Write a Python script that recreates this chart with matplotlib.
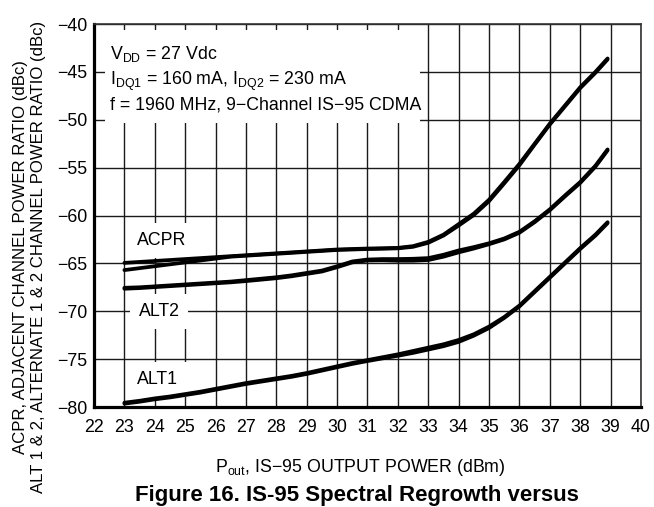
import matplotlib
matplotlib.use("Agg")
import matplotlib.pyplot as plt
from matplotlib.patches import Rectangle

plt.rcParams['font.family'] = ['Liberation Sans', 'DejaVu Sans']
plt.rcParams['mathtext.default'] = 'regular'

# ---- data ----
pout = [23, 23.5, 24, 24.5, 25, 25.5, 26, 26.5, 27, 27.5, 28, 28.5, 29, 29.5,
        30, 30.5, 31, 31.5, 32, 32.5, 33, 33.5, 34, 34.5, 35, 35.5, 36, 36.5,
        37, 37.5, 38, 38.5, 38.9]

acpr_a = [-64.95, -64.85, -64.75, -64.65, -64.55, -64.45, -64.35, -64.25, -64.15,
          -64.05, -63.95, -63.85, -63.75, -63.65, -63.55, -63.5, -63.45, -63.42,
          -63.38, -63.2, -62.75, -62.0, -60.9, -59.8, -58.35, -56.5, -54.6, -52.5,
          -50.4, -48.5, -46.6, -45.0, -43.6]
acpr_b = [-65.7, -65.5, -65.3, -65.1, -64.9, -64.7, -64.5, -64.3, -64.2,
          -64.1, -64.0, -63.9, -63.8, -63.7, -63.6, -63.55, -63.5, -63.47,
          -63.43, -63.27, -62.85, -62.1, -61.05, -59.95, -58.5, -56.65, -54.75, -52.6,
          -50.5, -48.6, -46.7, -45.1, -43.7]

alt2_a = [-67.55, -67.5, -67.4, -67.3, -67.2, -67.1, -67.0, -66.9, -66.75,
          -66.6, -66.45, -66.25, -66.0, -65.75, -65.3, -64.8, -64.6, -64.55,
          -64.55, -64.52, -64.45, -64.1, -63.65, -63.3, -62.9, -62.4, -61.7, -60.6,
          -59.35, -57.9, -56.5, -54.8, -53.1]
alt2_b = [-67.65, -67.58, -67.48, -67.38, -67.28, -67.18, -67.08, -66.98, -66.85,
          -66.7, -66.55, -66.35, -66.1, -65.85, -65.4, -64.9, -64.7, -64.68,
          -64.72, -64.72, -64.65, -64.3, -63.85, -63.45, -63.0, -62.5, -61.8, -60.7,
          -59.45, -58.0, -56.6, -54.9, -53.2]

alt1_a = [-79.55, -79.35, -79.1, -78.9, -78.65, -78.4, -78.1, -77.8, -77.5,
          -77.25, -77.0, -76.75, -76.45, -76.1, -75.75, -75.4, -75.1, -74.8,
          -74.5, -74.15, -73.8, -73.45, -73.0, -72.4, -71.6, -70.6, -69.4, -67.9,
          -66.4, -64.9, -63.4, -62.0, -60.7]
alt1_b = [-79.65, -79.45, -79.2, -79.0, -78.75, -78.5, -78.2, -77.9, -77.6,
          -77.35, -77.1, -76.85, -76.55, -76.2, -75.85, -75.5, -75.2, -74.92,
          -74.65, -74.35, -74.0, -73.65, -73.2, -72.55, -71.75, -70.7, -69.5, -68.0,
          -66.5, -65.0, -63.5, -62.1, -60.8]

xticks = list(range(22, 41))
yticks = [-80, -75, -70, -65, -60, -55, -50, -45, -40]

FS = 12.8

# ---- figure ----
fig = plt.figure(figsize=(6.54, 5.07), dpi=100)
ax = fig.add_axes([94/654, 1-407/507, 547/654, 383/507])
ax.set_xlim(22, 40)
ax.set_ylim(-80, -40)
ax.set_xticks(xticks)
ax.set_yticks(yticks)
ax.set_axisbelow(True)
ax.grid(True, color='#1a1a1a', linewidth=1.0, zorder=0.5)
ax.tick_params(length=0, labelsize=FS, colors='black')
ax.tick_params(axis='x', pad=9)
ax.tick_params(axis='y', pad=5)
for s in ['left', 'bottom']:
    ax.spines[s].set_linewidth(2.3)
for s in ['top', 'right']:
    ax.spines[s].set_linewidth(1.2)
    ax.spines[s].set_color('#333333')

# white box behind the conditions text
ax.add_patch(Rectangle((0.020, 0.7415), 0.576, 0.243, transform=ax.transAxes,
                       facecolor='white', edgecolor='none', zorder=1))

lw = 2.7
for ys in (acpr_a, acpr_b, alt2_a, alt2_b, alt1_a, alt1_b):
    ax.plot(pout, ys, color='black', lw=lw, solid_capstyle='round',
            solid_joinstyle='round', zorder=3)

bb = dict(boxstyle='square,pad=0.5', facecolor='white', edgecolor='none')
ax.text(24.22, -62.6, 'ACPR', fontsize=FS, ha='center', va='center', bbox=bb, zorder=2)
ax.text(24.14, -70.05, 'ALT2', fontsize=FS, ha='center', va='center', bbox=bb, zorder=2)
ax.text(24.1, -77.15, 'ALT1', fontsize=FS, ha='center', va='center', bbox=bb, zorder=2)

# condition text
tx = (110 - 94) / 547
ax.text(tx, (407 - 59) / 383, 'V$_{DD}$ = 27 Vdc', transform=ax.transAxes,
        fontsize=FS, va='baseline', ha='left', zorder=2)
ax.text(tx, (407 - 85) / 383, 'I$_{DQ1}$ = 160 mA, I$_{DQ2}$ = 230 mA',
        transform=ax.transAxes, fontsize=FS, va='baseline', ha='left', zorder=2)
ax.text(tx, (407 - 110) / 383, 'f = 1960 MHz, 9\u2212Channel IS\u221295 CDMA',
        transform=ax.transAxes, fontsize=FS, va='baseline', ha='left', zorder=2)

# axis labels
fig.text(30/654, 1 - 257/507,
         'ACPR, ADJACENT CHANNEL POWER RATIO (dBc)\n'
         'ALT 1 & 2, ALTERNATE 1 & 2 CHANNEL POWER RATIO (dBc)',
         rotation=90, ha='center', va='center', fontsize=12.1,
         multialignment='center', linespacing=1.25)
fig.text(360/654, 1 - 467/507, 'P$_{out}$, IS\u221295 OUTPUT POWER (dBm)',
         ha='center', va='center', fontsize=FS)
fig.text(357/654, 0.5/507, 'Figure 16. IS-95 Spectral Regrowth versus',
         ha='center', va='bottom', fontsize=16, fontweight='bold')

fig.savefig('out.png', dpi=100)
